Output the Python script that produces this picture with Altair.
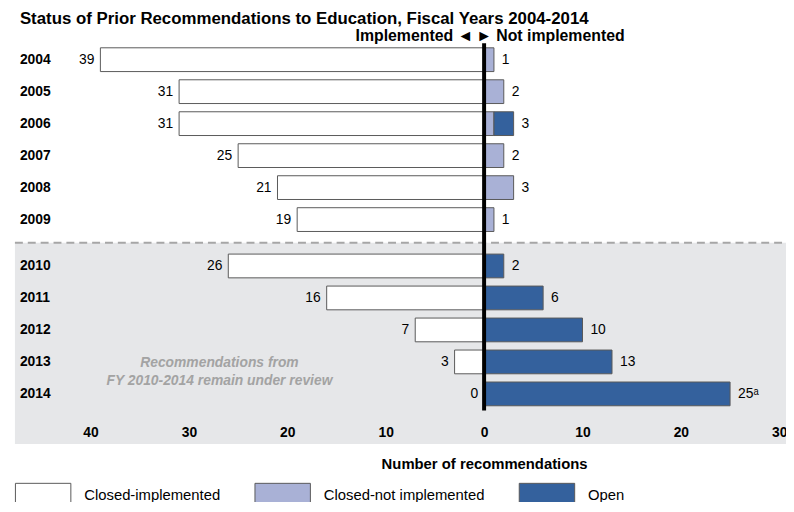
import altair as alt
import pandas as pd

# ---- data ----
years = [2004, 2005, 2006, 2007, 2008, 2009, 2010, 2011, 2012, 2013, 2014]
closed_implemented = [39, 31, 31, 25, 21, 19, 26, 16, 7, 3, 0]
closed_not_implemented = [1, 2, 1, 2, 3, 1, 0, 0, 0, 0, 0]
open_recs = [0, 0, 2, 0, 0, 0, 2, 6, 10, 13, 25]
right_labels = ["1", "2", "3", "2", "3", "1", "2", "6", "10", "13", "25ᵃ"]
statuses = ["Closed-implemented", "Closed-not implemented", "Open"]
status_colors = ["#ffffff", "#a9b1d6", "#34619d"]
x_ticks = [-40, -30, -20, -10, 0, 10, 20, 30]
review_from_year = 2010
title_text = "Status of Prior Recommendations to Education, Fiscal Years 2004-2014"
left_header = "Implemented ◄"
right_header = "► Not implemented"
note_lines = ["Recommendations from", "FY 2010-2014 remain under review"]
axis_title = "Number of recommendations"

# ---- layout constants ----
FONT = "Liberation Sans"
GAP = 0.45          # extra row spacing before the review period
STEP = 33.2         # px per row
BAR = 24            # bar thickness px
PX_PER_UNIT = 9.94
ZERO_PX = 474       # x of zero inside plot
W = 779
TOP = 33
SVG_H = 494
H = round(STEP * (len(years) - 1 + GAP) + BAR)
half = (BAR / 2) / STEP

rows = []
seg = []
for i, y in enumerate(years):
    pos = i + (GAP if y >= review_from_year else 0)
    ci, cn, op = closed_implemented[i], closed_not_implemented[i], open_recs[i]
    rows.append(dict(year=str(y), pos=pos, left_x=-ci, left_label=str(ci),
                     right_x=cn + op, right_label=right_labels[i]))
    parts = [(statuses[0], -ci, 0), (statuses[1], 0, cn), (statuses[2], cn, cn + op)]
    for s, a, b in parts:
        if a != b:
            seg.append(dict(status=s, x=a, x2=b, pos=pos))
rows = pd.DataFrame(rows)
seg = pd.DataFrame(seg)

gap_pos = (rows.loc[rows.year == str(review_from_year - 1), "pos"].iloc[0] +
           rows.loc[rows.year == str(review_from_year), "pos"].iloc[0]) / 2
last_pos = rows.pos.max()

gap_df = pd.DataFrame({"gap": [gap_pos]})
zero_df = pd.DataFrame({"zero": [0]})
note_df = pd.DataFrame({"nx": [-26.9], "ny": [last_pos - 0.95]})

x_dom = [-ZERO_PX / PX_PER_UNIT, (W - ZERO_PX) / PX_PER_UNIT]
y_dom = [-half, last_pos + half]

xs = alt.Scale(domain=x_dom, nice=False, zero=False)
ys = alt.Scale(domain=y_dom, nice=False, zero=False, reverse=True)

band = alt.Chart(gap_df).mark_rect(color="#e6e7e9").encode(
    x=alt.value(0), x2=alt.value(W),
    y=alt.Y("gap:Q", scale=ys, axis=None), y2=alt.value(H + 34),
)

dash = alt.Chart(gap_df).mark_rule(color="#a6a6a6", strokeWidth=2, strokeDash=[8, 5]).encode(
    x=alt.value(0), x2=alt.value(W), y=alt.Y("gap:Q", scale=ys, axis=None),
)

bars = alt.Chart(seg).mark_bar(size=BAR, stroke="#595959", strokeWidth=1, orient="horizontal").encode(
    x=alt.X("x:Q", scale=xs, axis=alt.Axis(
        values=x_ticks, labelExpr="abs(datum.value)", title=axis_title,
        domain=False, ticks=False, tickSize=0, grid=False, zindex=1,
        labelFont=FONT, labelFontSize=14, labelFontWeight="bold", labelColor="#000",
        labelPadding=15, labelFlush=False, labelOverlap=False,
        titleFont=FONT, titleFontSize=15, titleFontWeight="bold", titleColor="#000",
        titleX=ZERO_PX, titleY=54, titleBaseline="middle", titleAlign="center")),
    x2="x2:Q",
    y=alt.Y("pos:Q", scale=ys, axis=None),
    color=alt.Color("status:N", scale=alt.Scale(domain=statuses, range=status_colors),
                    legend=alt.Legend(
                        title=None, orient="none", direction="horizontal",
                        legendX=0, legendY=428,
                        symbolType="M-1,-0.43H1V0.43H-1Z", symbolSize=3136,
                        symbolStrokeColor="#595959", symbolStrokeWidth=1,
                        symbolOpacity=1,
                        labelFont=FONT, labelFontSize=15, labelColor="#000",
                        labelOffset=13, columnPadding=32, labelLimit=300)),
)

zero = alt.Chart(zero_df).mark_rule(color="#000", strokeWidth=4).encode(
    x=alt.X("zero:Q", scale=xs),
)

year_lbl = alt.Chart(rows).mark_text(align="left", baseline="middle", font=FONT,
                                     fontSize=14, fontWeight="bold", color="#000").encode(
    x=alt.value(5), y=alt.Y("pos:Q", scale=ys), text="year:N")

left_lbl = alt.Chart(rows).mark_text(align="right", baseline="middle", dx=-6, font=FONT,
                                     fontSize=14, color="#000").encode(
    x=alt.X("left_x:Q", scale=xs), y=alt.Y("pos:Q", scale=ys), text="left_label:N")

right_lbl = alt.Chart(rows).mark_text(align="left", baseline="middle", dx=8, font=FONT,
                                      fontSize=14, color="#000").encode(
    x=alt.X("right_x:Q", scale=xs), y=alt.Y("pos:Q", scale=ys), text="right_label:N")

note = alt.Chart(note_df).mark_text(text=note_lines, align="center", baseline="middle",
                                    font=FONT, fontSize=14, fontWeight="bold", fontStyle="italic",
                                    color="#a3a3a3", lineHeight=18).encode(
    x=alt.X("nx:Q", scale=xs), y=alt.Y("ny:Q", scale=ys))

title = alt.Chart(zero_df).mark_text(text=title_text, align="left", baseline="alphabetic",
                                     font=FONT, fontSize=17, fontWeight="bold", color="#000").encode(
    x=alt.value(5), y=alt.value(14 - TOP))

hdr_left = alt.Chart(zero_df).mark_text(text=left_header, align="right", baseline="middle", dx=-11,
                                        font=FONT, fontSize=16, fontWeight="bold", color="#000").encode(
    x=alt.X("zero:Q", scale=xs), y=alt.value(26 - TOP))
hdr_right = alt.Chart(zero_df).mark_text(text=right_header, align="left", baseline="middle", dx=-8,
                                         font=FONT, fontSize=16, fontWeight="bold", color="#000").encode(
    x=alt.X("zero:Q", scale=xs), y=alt.value(26 - TOP))

chart = alt.layer(band, dash, bars, zero, year_lbl, left_lbl, right_lbl, note,
                  title, hdr_left, hdr_right).properties(
    width=W, height=H,
    autosize=alt.AutoSizeParams(type="none"),
    padding={"left": 7, "top": TOP, "right": 0, "bottom": SVG_H - TOP - H},
    background="white",
).configure_view(stroke=None)

chart.save("out.html", embed_options={"renderer": "svg", "actions": False})
